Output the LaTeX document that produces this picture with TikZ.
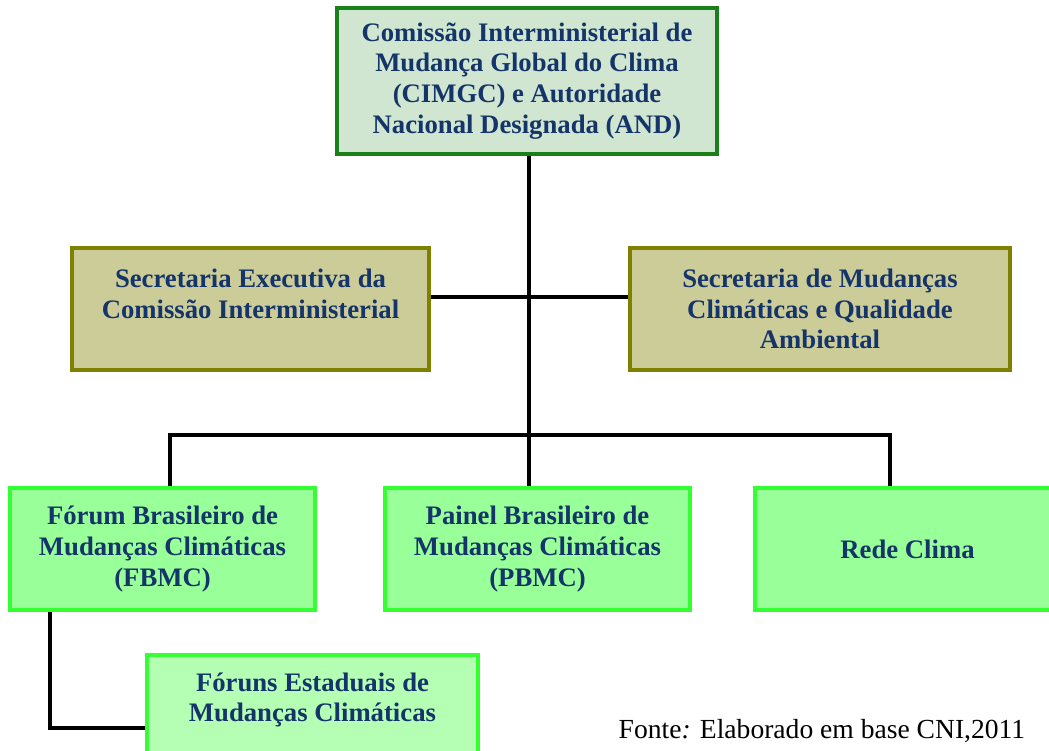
\documentclass[tikz,border=0pt]{standalone}
\usepackage{fontspec}
\setmainfont{Liberation Serif}
\usetikzlibrary{positioning}

\definecolor{txtnavy}{HTML}{14346A}
\definecolor{topline}{HTML}{1A801A}
\definecolor{topfill}{HTML}{D0E6D0}
\definecolor{secline}{HTML}{808000}
\definecolor{secfill}{HTML}{CCCC99}
\definecolor{grnline}{HTML}{33FF33}
\definecolor{grnfill}{HTML}{99FF99}
\definecolor{estfill}{HTML}{B5FFB5}

\tikzset{
  orgbox/.style={draw, align=center, text=txtnavy,
    font=\fontsize{15.2}{17.5}\selectfont\bfseries},
  topbox/.style={orgbox, draw=topline, fill=topfill, line width=2.2pt,
    minimum width=7.6cm, minimum height=2.92cm},
  secbox/.style={orgbox, draw=secline, fill=secfill, line width=1.8pt,
    minimum height=2.44cm},
  grnbox/.style={orgbox, draw=grnline, fill=grnfill, line width=1.8pt,
    minimum width=6.1cm, minimum height=2.44cm},
  link/.style={line width=2.2pt, black}
}

\begin{document}
\begin{tikzpicture}[x=0.02cm, y=-0.02cm]
\useasboundingbox (0,0) rectangle (1049,751);

\node[topbox] (cimgc) at (527, 81) {Comissão Interministerial de\\Mudança Global do Clima\\(CIMGC) e Autoridade\\Nacional Designada (AND)};

\node[secbox, minimum width=7.14cm] (secexec) at (250.5, 309) {Secretaria Executiva da\\Comissão Interministerial\\~};
\node[secbox, minimum width=7.6cm] (secmca) at (820, 309) {Secretaria de Mudanças\\Climáticas e Qualidade\\Ambiental};

\node[grnbox] (fbmc) at (162.5, 549) {Fórum Brasileiro de\\Mudanças Climáticas\\(FBMC)};
\node[grnbox] (pbmc) at (537.5, 549) {Painel Brasileiro de\\Mudanças Climáticas\\(PBMC)};
\node[grnbox] (rede) at (907.5, 549) {Rede Clima};

\node[grnbox, fill=estfill, minimum width=6.62cm, minimum height=2.92cm] (forest) at (312.5, 728) {Fóruns Estaduais de\\Mudanças Climáticas\\~\\~};

\node[font=\fontsize{15.7}{18}\selectfont] (fonte) at (822, 731) {Fonte\textit{:} Elaborado em base CNI,2011};

% junctions of the tree
\coordinate (jsec) at (529, 297);
\coordinate (jbot) at (529, 435);
\coordinate (xleft) at (170, 0);
\coordinate (xright) at (890, 0);
\coordinate (xest) at (50, 0);

\draw[link] (cimgc.south -| jbot) -- (jbot);
\draw[link] (secexec.east |- jsec) -- (secmca.west |- jsec);
\draw[link] (fbmc.north -| xleft) |- (jbot) -| (rede.north -| xright);
\draw[link] (jbot) -- (pbmc.north -| jbot);
\draw[link] (fbmc.south -| xest) |- (forest.west);
\end{tikzpicture}
\end{document}
